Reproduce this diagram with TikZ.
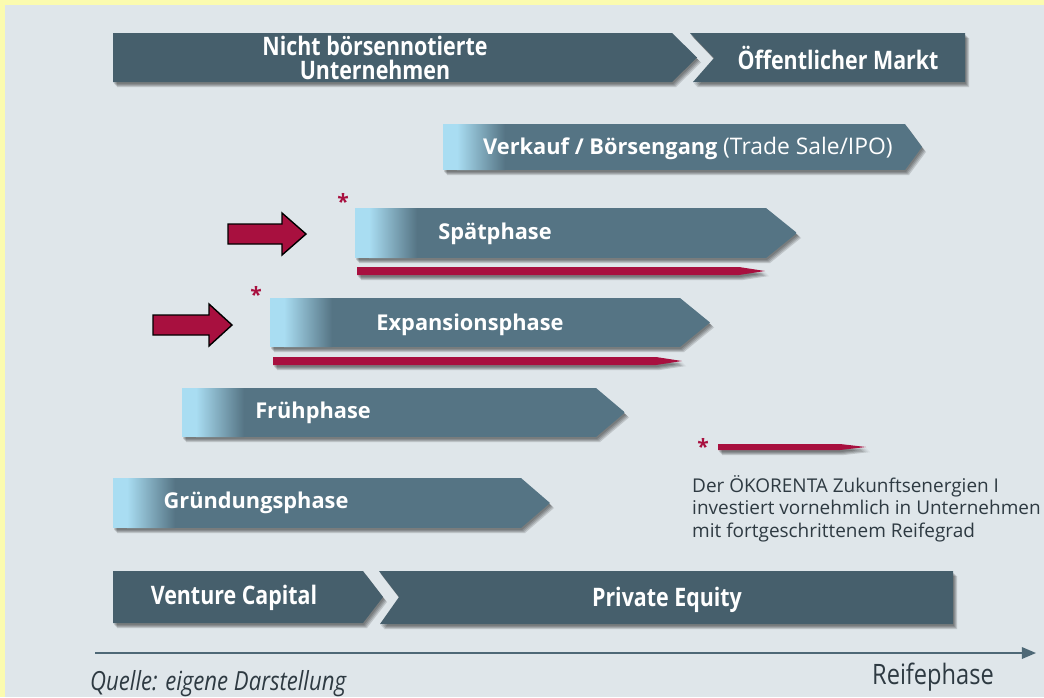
\documentclass[tikz,border=0pt]{standalone}
\usepackage{fontspec}
\setmainfont{Open Sans}
\newfontfamily\condfont[FakeStretch=0.84]{Open Sans}
\usetikzlibrary{arrows.meta}

\definecolor{frame}{HTML}{FBFBAF}
\definecolor{panel}{HTML}{DFE6EA}
\definecolor{bannerblue}{HTML}{465F6C}
\definecolor{phaseblue}{HTML}{557484}
\definecolor{glow}{HTML}{A9DDF2}
\definecolor{okored}{HTML}{A8103F}
\definecolor{axisblue}{HTML}{4E6876}
\definecolor{notegray}{HTML}{2E3A42}

% chevron: left, top, end of body, tip, bottom
\newcommand{\chevronpath}[5]{(#1,#2) -- (#3,#2) -- (#4,{(#2+#5)/2}) -- (#3,#5) -- (#1,#5) -- cycle}
% tapered red bar: left, top, tip, thickness
\newcommand{\barpath}[4]{(#1,#2) -- ({#3-26},#2) -- (#3,{#2+#4/2}) -- ({#3-26},{#2+#4}) -- (#1,{#2+#4}) -- cycle}

\tikzset{
  softshadow/.style={fill=black, opacity=0.14},
  bannertext/.style={text=white, align=center, font=\condfont\bfseries\fontsize{14.5}{13.5}\selectfont},
  phasetext/.style={text=white, font=\bfseries\fontsize{12.4}{14}\selectfont},
  redbar/.style={fill=okored},
  redarrow/.style={fill=okored, draw=black, line width=0.8pt},
  asterisk/.style={text=okored, font=\bfseries\fontsize{12}{12}\selectfont},
  notetext/.style={text=notegray, align=left, font=\fontsize{10.8}{12.8}\selectfont},
  axis/.style={draw=axisblue, line width=1.1pt, -{Triangle[length=8pt,width=6.5pt]}},
}

% shadow under a path
\newcommand{\shadowunder}[1]{%
  \foreach \d in {1,2,3,4}
    \fill[softshadow, shift={(\d,{\d+1})}] #1;}

% one phase arrow with light left edge
\newcommand{\phasearrow}[5]{%
  \shadowunder{\chevronpath{#1}{#2}{#3}{#4}{#5}}
  \begin{scope}
    \clip \chevronpath{#1}{#2}{#3}{#4}{#5};
    \fill[phaseblue] (#1,#2) rectangle (#4,#5);
    \fill[glow] (#1,#2) rectangle ({#1+14},#5);
    \shade[left color=glow, right color=phaseblue] ({#1+14},#2) rectangle ({#1+62},#5);
  \end{scope}}

\begin{document}
\begin{tikzpicture}[x=0.02cm, y=-0.02cm]
    \useasboundingbox (0,0) rectangle (1044,697);

    % Background
    \fill[frame] (0,0) rectangle (1044,697);
    \fill[panel] (5,5) rectangle (1044,697);

    % Market banners
    \shadowunder{\chevronpath{113}{33}{672}{697}{82}}
    \fill[bannerblue] \chevronpath{113}{33}{672}{697}{82};
    \shadowunder{(690,33) -- (965,33) -- (965,82) -- (693,82) -- (714,58) -- cycle}
    \fill[bannerblue] (690,33) -- (965,33) -- (965,82) -- (693,82) -- (714,58) -- cycle;
    \node[bannertext] (privat) at (375,58) {Nicht börsennotierte\\Unternehmen};
    \node[bannertext] (markt) at (838,58) {Öffentlicher Markt};

    % Phases
    \phasearrow{443}{124}{905}{922}{170}
    \node[phasetext, anchor=west] (exit) at (477,148)
        {Verkauf / Börsengang {\mdseries\fontsize{13}{14}\selectfont (Trade Sale/IPO)}};

    \phasearrow{355}{208}{766}{797}{258}
    \node[phasetext] (spaet) at (495,234) {Spätphase};

    \phasearrow{270}{298}{680}{710}{347}
    \node[phasetext] (expansion) at (470,325) {Expansionsphase};

    \phasearrow{182}{388}{596}{625}{437}
    \node[phasetext] (frueh) at (313,413) {Frühphase};

    \phasearrow{113}{478}{521}{550}{528}
    \node[phasetext] (gruendung) at (256,503) {Gründungsphase};

    % Focus bars
    \shadowunder{\barpath{357}{267}{765}{8}}
    \fill[redbar] \barpath{357}{267}{765}{8};
    \shadowunder{\barpath{273}{357}{682}{8}}
    \fill[redbar] \barpath{273}{357}{682}{8};
    \node[asterisk] (starspaet) at (343,201) {*};
    \node[asterisk] (starexp) at (256,294) {*};

    % Pointer arrows
    \draw[redarrow] (228,224) -- (282,224) -- (282,213) -- (306,234) -- (282,255) -- (282,244) -- (228,244) -- cycle;
    \draw[redarrow] (153,315) -- (209,315) -- (209,304) -- (232,325) -- (209,346) -- (209,335) -- (153,335) -- cycle;

    % Legend
    \node[asterisk] (starkey) at (703,446) {*};
    \shadowunder{\barpath{718}{444}{866}{6}}
    \fill[redbar] \barpath{718}{444}{866}{6};
    \node[notetext, anchor=north west] (note) at (686,469)
        {Der ÖKORENTA Zukunftsenergien I\\investiert vornehmlich in Unternehmen\\mit fortgeschrittenem Reifegrad};

    % Financing banners
    \shadowunder{\chevronpath{113}{571}{363}{383}{623}}
    \fill[bannerblue] \chevronpath{113}{571}{363}{383}{623};
    \shadowunder{(379,571) -- (953,571) -- (953,624) -- (380,624) -- (399,597) -- cycle}
    \fill[bannerblue] (379,571) -- (953,571) -- (953,624) -- (380,624) -- (399,597) -- cycle;
    \node[bannertext] (vc) at (234,598) {Venture Capital};
    \node[bannertext] (pe) at (667,600) {Private Equity};

    % Axis
    \coordinate (a0) at (95,653);
    \coordinate (a1) at (1036,653);
    \draw[axis] (a0) -- (a1);
    \node[text=notegray, font=\condfont\fontsize{16}{17}\selectfont] (reife) at (933,677) {Reifephase};
    \node[text=notegray, anchor=west, font=\condfont\itshape\fontsize{15}{17}\selectfont] (quelle) at (84,684)
        {Quelle: eigene Darstellung};
\end{tikzpicture}
\end{document}
